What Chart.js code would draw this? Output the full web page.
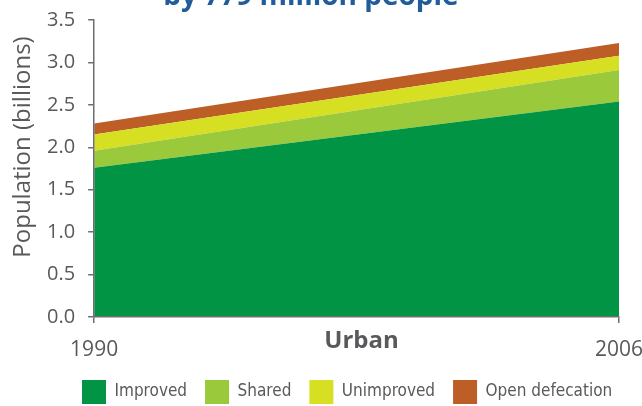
<!DOCTYPE html>
<html>
<head>
<meta charset="utf-8">
<script src="https://cdn.jsdelivr.net/npm/chart.js@4/dist/chart.umd.min.js"></script>
<style>
  html, body { margin: 0; padding: 0; background: #fff; }
  #wrap { width: 642px; height: 406px; position: relative; }
</style>
</head>
<body>
<div id="wrap"><canvas id="urbanChart"></canvas></div>
<script>
// Datos (miles de millones de personas)
const years = ['1990', '2006'];
const improved = [1.76, 2.54];
const shared = [0.20, 0.37];
const unimproved = [0.19, 0.17];
const openDefecation = [0.13, 0.15];
const yTicks = [0, 0.5, 1, 1.5, 2, 2.5, 3, 3.5];

const titleText = 'by 779 million people';
const yTitle = 'Population (billions)';
const xTitle = 'Urban';

const grey = '#58595B';
const axisGrey = '#6D6E71';

// textos que Chart.js no coloca como en el original
const extraText = {
  id: 'extraText',
  afterUpdate(chart) {
    const lg = chart.legend;
    const pad = lg.options.labels.padding;
    const firstX = (lg.left + pad + lg.right - lg.lineWidths[0]) / 2;
    const dx = 82 - firstX;
    lg.left += dx;
    lg.right += dx;
  },
  afterDraw(chart) {
    const ctx = chart.ctx;
    const area = chart.chartArea;
    ctx.save();
    ctx.textAlign = 'center';
    ctx.textBaseline = 'alphabetic';

    ctx.fillStyle = '#215D9A';
    ctx.font = 'bold 28px "Open Sans"';
    ctx.fillText(titleText, 311, 5);

    ctx.fillStyle = grey;
    ctx.font = 'bold 24px "Open Sans"';
    ctx.fillText(xTitle, (area.left + area.right) / 2 + 5, area.bottom + 31);

    ctx.translate(area.left - 71, area.top + 127);
    ctx.rotate(-Math.PI / 2);
    ctx.textBaseline = 'middle';
    ctx.font = '24px "Open Sans"';
    ctx.fillText(yTitle, 0, 0);
    ctx.restore();
  }
};

function serie(label, data, color, fill) {
  return {
    label: label,
    data: data,
    backgroundColor: color,
    borderColor: color,
    borderWidth: 0,
    pointRadius: 0,
    tension: 0,
    fill: fill
  };
}

const ctx = document.getElementById('urbanChart').getContext('2d');
const chart = new Chart(ctx, {
  type: 'line',
  data: {
    labels: years,
    datasets: [
      serie('Improved', improved, '#009444', 'origin'),
      serie('Shared', shared, '#9ACA3C', '-1'),
      serie('Unimproved', unimproved, '#D7DF23', '-1'),
      serie('Open defecation', openDefecation, '#BD5E27', '-1')
    ]
  },
  options: {
    responsive: true,
    maintainAspectRatio: false,
    animation: false,
    layout: {
      padding: { top: 0, left: 34, right: 0, bottom: -8 }
    },
    plugins: {
      tooltip: { enabled: false },
      legend: {
        position: 'bottom',
        labels: {
          boxWidth: 24,
          boxHeight: 24,
          padding: 18,
          color: grey,
          font: { family: '"Noto Sans Condensed", "DejaVu Sans Condensed", "Open Sans"', size: 17 }
        }
      }
    },
    scales: {
      x: {
        offset: false,
        grid: { drawOnChartArea: false, drawTicks: true, tickLength: 6, color: axisGrey, lineWidth: 1.5 },
        border: { display: true, color: axisGrey, width: 1.5, z: 1 },
        ticks: {
          color: grey,
          padding: 14,
          maxRotation: 0,
          font: { family: '"Open Sans"', size: 21 }
        },
        afterFit(scale) {
          scale.height = 45;
          scale.paddingRight = 23;
        }
      },
      y: {
        stacked: true,
        min: 0,
        max: 3.5,
        afterBuildTicks(scale) {
          scale.ticks = yTicks.map(v => ({ value: v }));
        },
        afterFit(scale) {
          scale.paddingTop = 20;
          scale.paddingBottom = 0;
        },
        grid: { drawOnChartArea: false, drawTicks: true, tickLength: 6, color: axisGrey, lineWidth: 1.5 },
        border: { display: true, color: axisGrey, width: 1.5, z: 1 },
        ticks: {
          color: grey,
          padding: 13,
          font: { family: '"Open Sans"', size: 20 },
          callback: v => v.toFixed(1)
        }
      }
    }
  },
  plugins: [extraText]
});
</script>
</body>
</html>
